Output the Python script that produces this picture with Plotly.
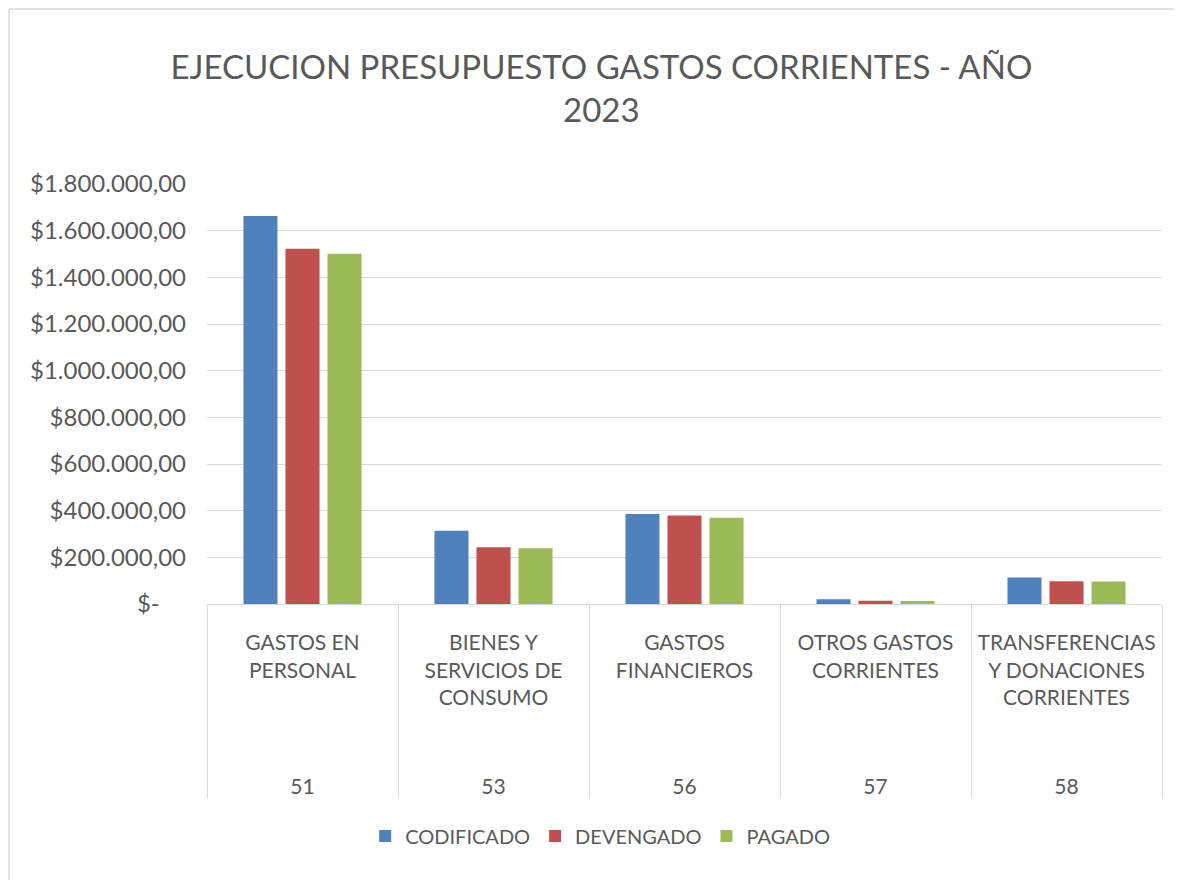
import plotly.graph_objects as go

# Datos del grafico
CODIGOS = ["51", "53", "56", "57", "58"]
RUBROS = [
    "GASTOS EN<br>PERSONAL",
    "BIENES Y<br>SERVICIOS DE<br>CONSUMO",
    "GASTOS<br>FINANCIEROS",
    "OTROS GASTOS<br>CORRIENTES",
    "TRANSFERENCIAS<br>Y DONACIONES<br>CORRIENTES",
]
CODIFICADO = [1663000, 314000, 386000, 20000, 114000]
DEVENGADO = [1523000, 243000, 379000, 14000, 97000]
PAGADO = [1501000, 239000, 370000, 13000, 96000]

Y_TICKS = [0, 200000, 400000, 600000, 800000, 1000000, 1200000, 1400000, 1600000, 1800000]
Y_LABELS = [
    "$-\u2007\u00a0\u00a0",
    "$200.000,00",
    "$400.000,00",
    "$600.000,00",
    "$800.000,00",
    "$1.000.000,00",
    "$1.200.000,00",
    "$1.400.000,00",
    "$1.600.000,00",
    "$1.800.000,00",
]

SERIES = [
    ("CODIFICADO", CODIFICADO, "#4F81BD"),
    ("DEVENGADO", DEVENGADO, "#C0504D"),
    ("PAGADO", PAGADO, "#9BBB59"),
]

FONT = "Lato, Open Sans, sans-serif"
GRIS = "#595959"
BORDE = "#D9D9D9"

# el codigo va debajo de las etiquetas de varias lineas
codigos_eje = ["\u00a0<br>\u00a0<br>\u00a0<br>" + c for c in CODIGOS]

fig = go.Figure()
for name, vals, color in SERIES:
    fig.add_trace(
        go.Bar(
            name=name,
            x=[codigos_eje, RUBROS],
            y=vals,
            marker=dict(color=color, line=dict(width=0)),
        )
    )

fig.update_layout(
    width=1182,
    height=880,
    template="plotly_white",
    paper_bgcolor="white",
    plot_bgcolor="white",
    font=dict(family=FONT, color=GRIS, size=22),
    title=dict(
        text="EJECUCION PRESUPUESTO GASTOS CORRIENTES - AÑO<br>2023",
        font=dict(family=FONT, size=33, color=GRIS),
        x=0.502,
        xanchor="center",
        xref="container",
        y=0.919,
        yanchor="middle",
        yref="container",
    ),
    barmode="group",
    bargap=0.34,
    bargroupgap=0.19,
    margin=dict(l=199, r=28, t=176, b=284),
    legend=dict(
        orientation="h",
        xref="container",
        yref="container",
        x=0.501,
        xanchor="center",
        y=0.059,
        yanchor="middle",
        font=dict(size=20, color=GRIS),
        itemwidth=30,
    ),
    xaxis=dict(
        type="multicategory",
        automargin=False,
        showline=True,
        linecolor=BORDE,
        linewidth=1,
        showgrid=False,
        showdividers=True,
        dividercolor=BORDE,
        dividerwidth=1,
        ticks="",
        tickangle=0,
        ticklabelstandoff=20,
        tickfont=dict(size=21, color=GRIS),
    ),
    yaxis=dict(
        automargin=False,
        range=[0, 1800000],
        tickvals=Y_TICKS,
        ticktext=Y_LABELS,
        showgrid=True,
        gridcolor=BORDE,
        gridwidth=1,
        zeroline=False,
        showline=False,
        ticks="",
        ticklabelstandoff=20,
        tickfont=dict(size=24, color=GRIS),
    ),
    shapes=[
        # marco del grafico (borde izquierdo y superior)
        dict(type="line", xref="paper", yref="paper",
             x0=-0.2073, x1=-0.2073, y0=-0.7, y1=1.4167,
             line=dict(color=BORDE, width=1.5)),
        dict(type="line", xref="paper", yref="paper",
             x0=-0.2073, x1=1.04, y0=1.4167, y1=1.4167,
             line=dict(color=BORDE, width=1.5)),
    ],
)

fig.write_html("out.html")
